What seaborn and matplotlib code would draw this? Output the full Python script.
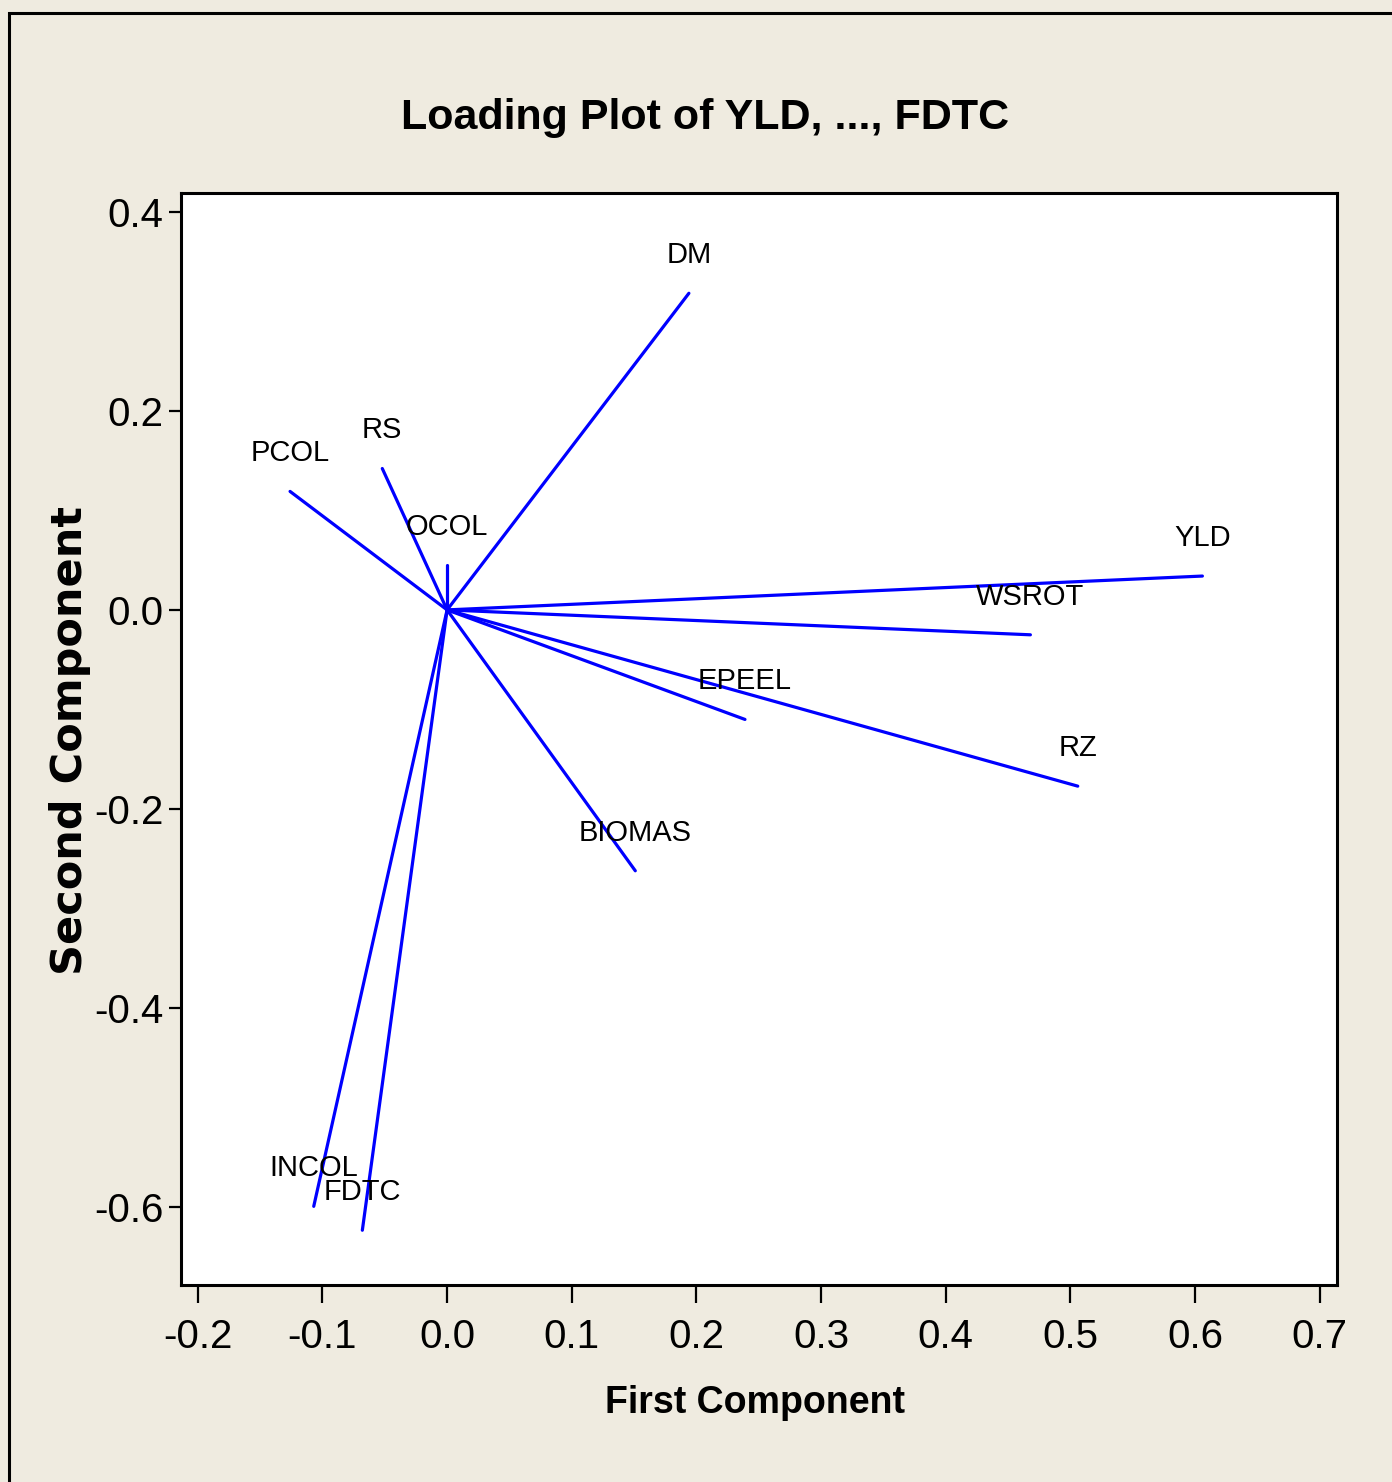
import matplotlib
matplotlib.use("Agg")
import matplotlib.pyplot as plt
from matplotlib.patches import Rectangle
import pandas as pd
import seaborn as sns

# Loadings on the first two principal components
variables = ["YLD", "WSROT", "RZ", "EPEEL", "BIOMAS", "DM", "RS",
             "PCOL", "OCOL", "INCOL", "FDTC"]
pc1 = [0.606, 0.468, 0.506, 0.239, 0.151, 0.194, -0.052,
       -0.126, 0.000, -0.107, -0.068]
pc2 = [0.034, -0.025, -0.177, -0.110, -0.262, 0.318, 0.142,
       0.119, 0.045, -0.599, -0.623]

x_ticks = [-0.2, -0.1, 0.0, 0.1, 0.2, 0.3, 0.4, 0.5, 0.6, 0.7]
y_ticks = [-0.6, -0.4, -0.2, 0.0, 0.2, 0.4]

# each loading vector runs from the origin to its (pc1, pc2) point
rows = []
for v, a, b in zip(variables, pc1, pc2):
    rows.append({"var": v, "pc1": 0.0, "pc2": 0.0, "step": 0})
    rows.append({"var": v, "pc1": a, "pc2": b, "step": 1})
vectors = pd.DataFrame(rows)

sns.set_theme(style="white")
plt.rcParams["font.family"] = ["Liberation Sans", "DejaVu Sans"]
plt.rcParams["text.color"] = "black"

BG = "#EFEBE0"
fig = plt.figure(figsize=(13.92, 14.82), dpi=100, facecolor=BG)
ax = fig.add_axes([181 / 1392, 1 - 1285 / 1482, (1337 - 181) / 1392, (1285 - 193) / 1482])
ax.set_facecolor("white")

sns.lineplot(data=vectors, x="pc1", y="pc2", units="var", estimator=None,
             sort=False, color="#0000FF", linewidth=2.3, ax=ax, legend=False)

for v, a, b in zip(variables, pc1, pc2):
    ax.annotate(v, (a, b), xytext=(0, 27.4), textcoords="offset points",
                ha="center", va="center", fontsize=21, color="black")

ax.set_xlim(-0.2135, 0.714)
ax.set_ylim(-0.678, 0.4187)
ax.set_xticks(x_ticks)
ax.set_yticks(y_ticks)
ax.set_xticklabels([f"{t:.1f}" for t in x_ticks])
ax.set_yticklabels([f"{t:.1f}" for t in y_ticks])
ax.tick_params(axis="x", direction="out", length=13, width=1.6, pad=11,
               labelsize=29, colors="black", bottom=True)
ax.tick_params(axis="y", direction="out", length=8.5, width=1.6, pad=4,
               labelsize=29, colors="black", left=True)
for s in ax.spines.values():
    s.set_color("black")
    s.set_linewidth(2.2)
ax.set_xlabel("")
ax.set_ylabel("")

fig.text(705 / 1392, 1 - 118 / 1482, "Loading Plot of YLD, ..., FDTC",
         ha="center", va="center", fontsize=31, fontweight="bold", color="black")
fig.text(755 / 1392, 1 - 1403 / 1482, "First Component",
         ha="center", va="center", fontsize=27, fontweight="bold", color="black")
fig.text(70 / 1392, 1 - 740 / 1482, "Second Component", rotation=90,
         ha="center", va="center", fontsize=31, fontweight="bold",
         color="black", family=["DejaVu Sans"])

# outer frame around the graph window
fig.patches.append(Rectangle((9 / 1392, -0.05), 1.2, 1 - 12.7 / 1482 + 0.05,
                             transform=fig.transFigure, fill=False,
                             edgecolor="black", linewidth=2.2, zorder=0))

fig.savefig("out.png", dpi=100, facecolor=BG)
